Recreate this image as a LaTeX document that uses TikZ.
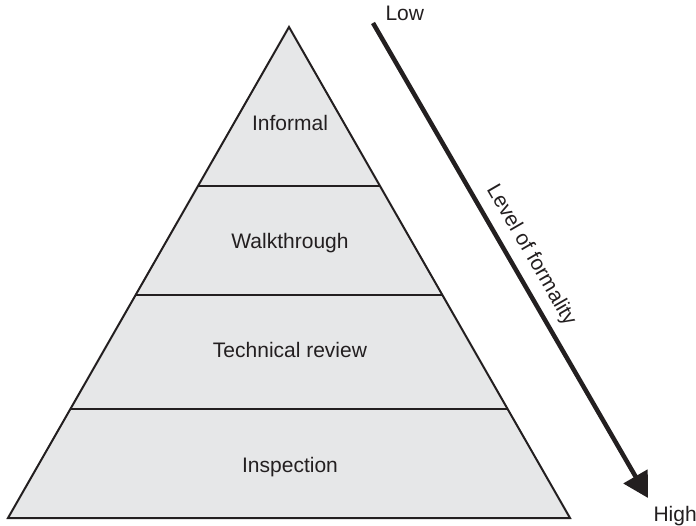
\documentclass[tikz,border=0pt]{standalone}
\usepackage{fontspec}
\setmainfont{Liberation Sans}
\usetikzlibrary{arrows.meta}
\definecolor{layergray}{HTML}{E6E7E8}
\definecolor{inkgray}{HTML}{231F20}
\tikzset{
  layerlabel/.style={anchor=base, text=inkgray, font=\fontsize{21}{25}\selectfont},
  divider/.style={draw=inkgray, line width=1.2pt},
}
\begin{document}
\begin{tikzpicture}[x=1pt,y=-1pt]
\useasboundingbox (0,0) rectangle (696,526);
% pyramid corners
\coordinate (apex) at (289,27);
\coordinate (bl) at (8,518);
\coordinate (br) at (570,518);
\fill[layergray] (apex) -- (bl) -- (br) -- cycle;
% layer dividers
\coordinate (d1l) at (198.2,186);
\coordinate (d1r) at (379.8,186);
\coordinate (d2l) at (135.9,295);
\coordinate (d2r) at (442.1,295);
\coordinate (d3l) at (70.8,409);
\coordinate (d3r) at (507.2,409);
\draw[divider] (d1l) -- (d1r);
\draw[divider] (d2l) -- (d2r);
\draw[divider] (d3l) -- (d3r);
\draw[inkgray, line width=2pt, line join=miter] (apex) -- (bl) -- (br) -- cycle;
% layer names
\node[layerlabel] (informal) at (290,131) {Informal};
\node[layerlabel] (walk) at (290,249) {Walkthrough};
\node[layerlabel] (techrev) at (290,358) {Technical review};
\node[layerlabel] (inspect) at (290,472) {Inspection};
% formality arrow
\node[layerlabel, anchor=base west] (low) at (382,21) {Low};
\node[layerlabel, anchor=base west] (high) at (650,521) {High};
\coordinate (astart) at (373,23);
\coordinate (aend) at (648,498);
\draw[inkgray, line width=4.5pt, -{Triangle[length=25pt,width=27pt]}] (astart) -- (aend)
  node[pos=0.51, sloped, above, yshift=5pt, text=inkgray, font=\fontsize{21}{25}\selectfont] (formality) {Level of formality};
\end{tikzpicture}
\end{document}
